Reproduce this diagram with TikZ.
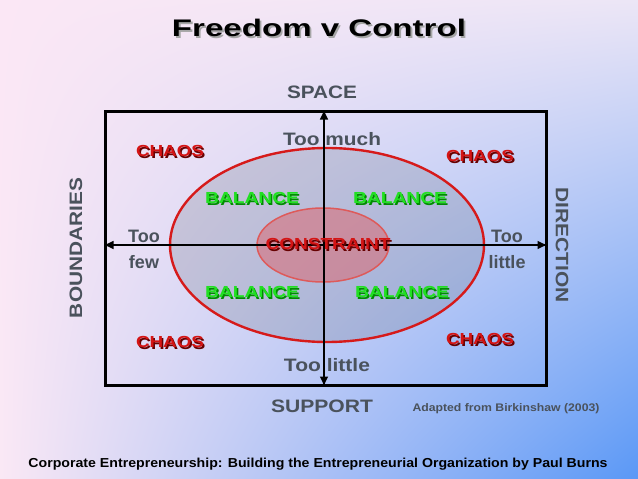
\documentclass[tikz,border=0pt]{standalone}
\usepackage{fontspec}
\setmainfont{Liberation Sans}
\usepackage{graphicx}
\usetikzlibrary{arrows.meta,shadings}
\definecolor{bgUL}{HTML}{FBE7F5}
\definecolor{bgUR}{HTML}{ECE6F6}
\definecolor{bgLL}{HTML}{FAE8F5}
\definecolor{bgLR}{HTML}{5A98F6}
\definecolor{txtgray}{HTML}{4A525C}
\definecolor{chaosred}{HTML}{D41414}
\definecolor{balgreen}{HTML}{22E022}
\definecolor{ellred}{HTML}{D61A1A}
\definecolor{smallred}{HTML}{DE5A5A}
\definecolor{smallfill}{HTML}{D8707A}
\definecolor{ellfill}{HTML}{606878}
\newcommand\fitw[2]{\resizebox{#1}{\height}{#2}}
\newcommand\shd[2]{\makebox[0pt][l]{\hspace{1.3pt}\raisebox{-1.3pt}{\textcolor{#1}{#2}}}#2}
\tikzset{
  axislabel/.style={text=txtgray, font=\fontsize{18}{20}\selectfont\bfseries, inner sep=0pt},
  toolabel/.style={text=txtgray, font=\fontsize{18}{26}\selectfont\bfseries, inner sep=0pt, align=center},
  chaos/.style={text=chaosred, font=\fontsize{16}{18}\selectfont\bfseries, inner sep=0pt},
  balance/.style={text=balgreen, font=\fontsize{16}{18}\selectfont\bfseries, inner sep=0pt},
  axisarrow/.style={line width=2.6pt, {Latex[length=10pt,width=9pt]}-{Latex[length=10pt,width=9pt]}},
}
\begin{document}
\begin{tikzpicture}[x=1pt,y=-1pt]
\fill[upper left=bgUL, upper right=bgUR, lower left=bgLL, lower right=bgLR] (0,0) rectangle (638,479);
\useasboundingbox (0,0) rectangle (638,479);
% big ellipse
\fill[ellfill, fill opacity=0.22] (327,245) ellipse [x radius=157, y radius=97];
\draw[ellred, line width=2.4pt] (327,245) ellipse [x radius=157, y radius=97];
% small ellipse
\fill[smallfill, fill opacity=0.6] (323,245) ellipse [x radius=66, y radius=37];
\draw[smallred, line width=1.5pt] (323,245) ellipse [x radius=66, y radius=37];
% box
\node[draw=black, line width=3pt, minimum width=441pt, minimum height=274pt, inner sep=0pt] (box) at (325.5,248) {};
\coordinate (L) at (box.west |- 0,245);
\coordinate (R) at (box.east |- 0,245);
\coordinate (T) at (box.north -| 324,0);
\coordinate (B) at (box.south -| 324,0);
\draw[axisarrow] (L) -- (R);
\draw[axisarrow] (T) -- (B);
% title
\node[inner sep=0pt, font=\fontsize{24}{26}\selectfont\bfseries] (title) at (319,29) {\fitw{294pt}{\shd{black!35}{Freedom v Control}}};
% axis labels
\node[axislabel] (space) at (322,92) {\fitw{70pt}{SPACE}};
\node[axislabel] (support) at (322,406) {\fitw{102pt}{SUPPORT}};
\node[axislabel, rotate=90] (bound) at (76,248) {\fitw{140pt}{BOUNDARIES}};
\node[axislabel, rotate=-90] (dir) at (562,245) {\fitw{115pt}{DIRECTION}};
% too labels
\node[toolabel] (toomuch) at (332,139) {\fitw{98pt}{Too much}};
\node[toolabel] (toolittleb) at (327,365) {\fitw{86pt}{Too little}};
\node[toolabel] (toofew) at (144,249) {Too\\few};
\node[toolabel] (toolittler) at (507,249) {Too\\little};
% chaos
\node[chaos] (c1) at (170,152) {\fitw{68pt}{\shd{black!60!red}{CHAOS}}};
\node[chaos] (c2) at (480,157) {\fitw{68pt}{\shd{black!60!red}{CHAOS}}};
\node[chaos] (c3) at (170,343) {\fitw{68pt}{\shd{black!60!red}{CHAOS}}};
\node[chaos] (c4) at (480,340) {\fitw{68pt}{\shd{black!60!red}{CHAOS}}};
% balance
\node[balance] (b1) at (252,199) {\fitw{94pt}{\shd{black!45!green}{BALANCE}}};
\node[balance] (b2) at (400,199) {\fitw{94pt}{\shd{black!45!green}{BALANCE}}};
\node[balance] (b3) at (252,293) {\fitw{94pt}{\shd{black!45!green}{BALANCE}}};
\node[balance] (b4) at (402,293) {\fitw{94pt}{\shd{black!45!green}{BALANCE}}};
% constraint
\node[chaos] (cons) at (328,245) {\fitw{125pt}{\shd{black!60!red}{CONSTRAINT}}};
% credits
\node[inner sep=0pt, text=txtgray, font=\fontsize{11}{12}\selectfont\bfseries] (adapted) at (506,409) {\fitw{187pt}{Adapted from Birkinshaw (2003)}};
\node[inner sep=0pt, text=black, font=\fontsize{13}{14}\selectfont\bfseries] (footer) at (318,464) {\fitw{579pt}{Corporate Entrepreneurship: Building the Entrepreneurial Organization by Paul Burns}};
\end{tikzpicture}
\end{document}
